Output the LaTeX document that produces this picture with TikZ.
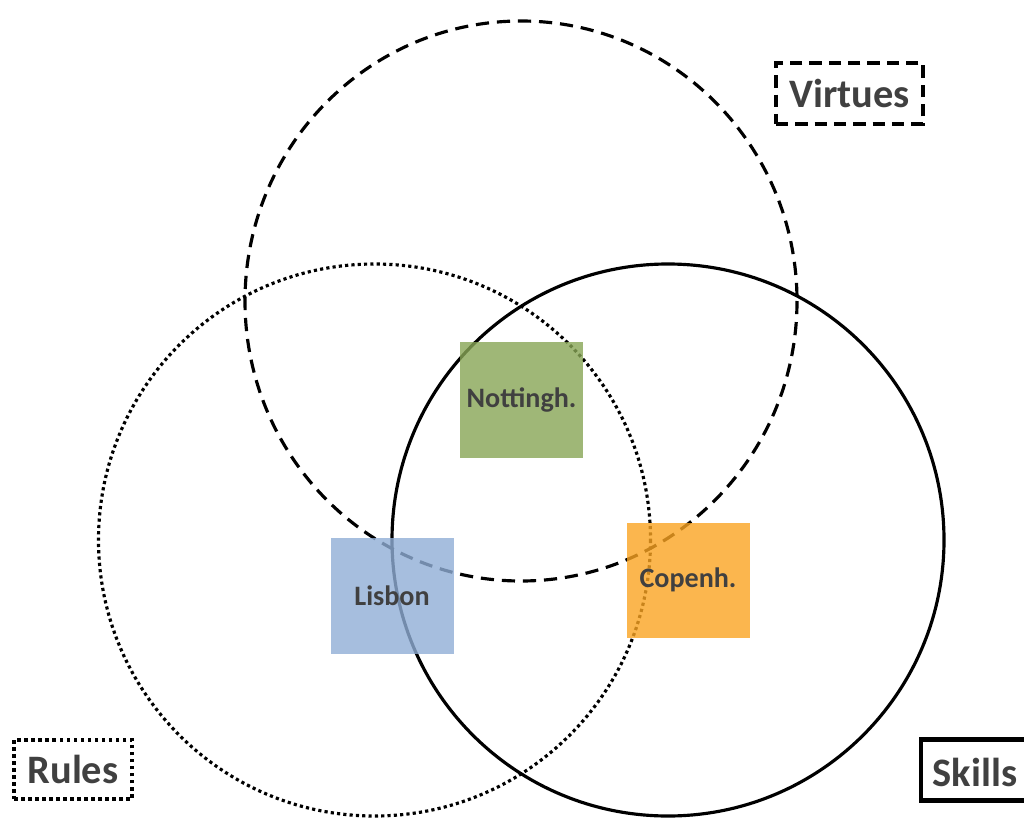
\documentclass[tikz,border=0pt]{standalone}
\usepackage{fontspec}
\setmainfont{Carlito}
\begin{document}
\begin{tikzpicture}[x=0.02cm,y=-0.02cm,
  ring/.style={line width=1.8pt},
  dashring/.style={ring, dash pattern=on 7.5pt off 4.5pt},
  dotring/.style={ring, dash pattern=on 1.8pt off 1.8pt},
  city/.style={draw=none, fill opacity=0.8, text opacity=1, minimum width=123*0.02cm, minimum height=116*0.02cm, inner sep=0pt, font=\fontsize{16}{19}\selectfont\bfseries, text=black!75},
  tag/.style={line width=2.3pt, inner sep=0pt, font=\fontsize{23}{27}\selectfont\bfseries, text=black!75},
  dashtag/.style={tag, draw, dash pattern=on 7pt off 4pt},
  dottag/.style={tag, draw, dash pattern=on 2pt off 2pt},
  solidtag/.style={tag, draw}]
\definecolor{cgreen}{RGB}{136,166,86}
\definecolor{cblue}{RGB}{144,174,214}
\definecolor{corange}{RGB}{250,164,34}
\useasboundingbox (0,0) rectangle (1024,821);
\clip (0,0) rectangle (1024,821);
\fill[white] (0,0) rectangle (1024,821);
% circles
\draw[dashring] (521,301) ellipse [x radius=276, y radius=280];
\draw[dotring] (374.5,540) circle [radius=276];
\draw[ring] (668,540) circle [radius=276];
% city boxes
\node[city, fill=cgreen] (nott) at (521.5,400) {Nottingh.};
\node[city, fill=cblue] (lis) at (392,596) {Lisbon};
\node[city, fill=corange, minimum height=115*0.02cm] (cop) at (688,580) {Copenh.};
% labels
\node[dashtag, minimum width=147*0.02cm, minimum height=61*0.02cm] (vir) at (849.5,93.5) {Virtues};
\node[dottag, minimum width=118*0.02cm, minimum height=59*0.02cm] (rul) at (73,769.5) {Rules};
\node[solidtag, minimum width=120*0.02cm, minimum height=61*0.02cm, anchor=west] (ski) at (919,770) {};
\node[tag] (skit) at (975,772) {Skills};
\end{tikzpicture}
\end{document}
